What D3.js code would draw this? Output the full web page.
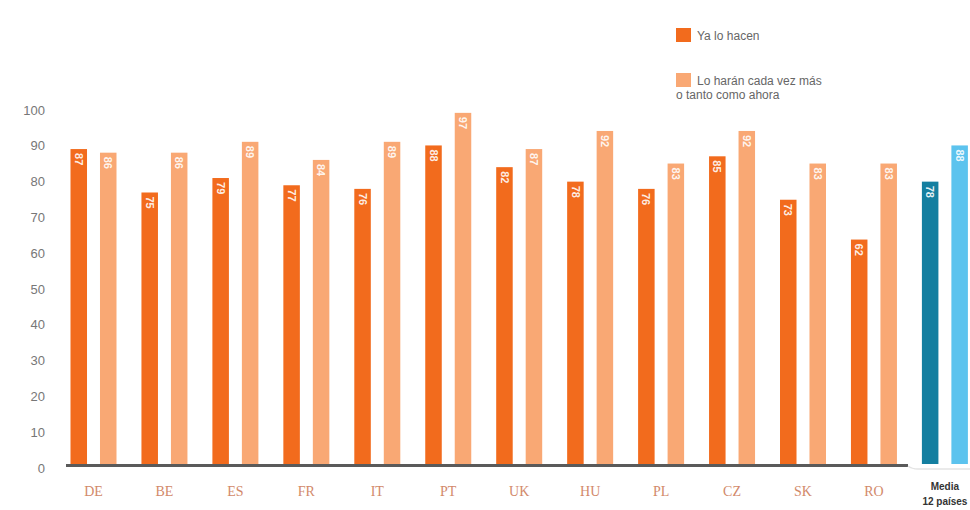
<!DOCTYPE html>
<html>
<head>
<meta charset="utf-8">
<style>
  body { margin: 0; background: #fff; }
  svg { display: block; }
</style>
</head>
<body>
<div id="container"></div>
<script src="https://cdn.jsdelivr.net/npm/d3@7"></script>
<script>
// Data
let countries = ["DE", "BE", "ES", "FR", "IT", "PT", "UK", "HU", "PL", "CZ", "SK", "RO", "Media"];
let yaLoHacen = [87, 75, 79, 77, 76, 88, 82, 78, 76, 85, 73, 62, 78];
let loHaran = [86, 86, 89, 84, 89, 97, 87, 92, 83, 92, 83, 83, 88];
let yTicks = [0, 10, 20, 30, 40, 50, 60, 70, 80, 90, 100];
let seriesNames = ["Ya lo hacen", "Lo harán cada vez más", "o tanto como ahora"];

let width = 970, height = 510;

let svg = d3.select("#container")
  .append("svg")
  .attr("width", width)
  .attr("height", height);

// Scales
let x = d3.scaleBand()
  .domain(countries)
  .range([63.5, 63.5 + 70.95 * countries.length])
  .padding(0);

let xSub = d3.scaleBand()
  .domain(["a", "b"])
  .range([7, 53])
  .paddingInner(0.44);

let y = d3.scaleLinear().domain([0, 100]).range([464, 102]);
// tick labels sit a little lower than the bar scale
let yLab = d3.scaleLinear().domain([0, 100]).range([468, 110]);

let dark = (d, i) => countries[i] === "Media" ? "#147fa0" : "#f26b1d";
let light = (d, i) => countries[i] === "Media" ? "#5cc3ee" : "#f9a874";

// Y tick labels
svg.append("g")
  .selectAll("text")
  .data(yTicks)
  .enter()
  .append("text")
  .attr("x", 45)
  .attr("y", (d) => yLab(d))
  .attr("dy", "0.35em")
  .attr("text-anchor", "end")
  .style("font-family", "Liberation Sans, Arial, sans-serif")
  .style("font-size", "13px")
  .style("fill", "#777")
  .text((d) => d);

// Bars
let groups = svg.append("g")
  .selectAll("g")
  .data(countries)
  .enter()
  .append("g")
  .attr("transform", (d) => `translate(${x(d)},0)`);

groups.append("rect")
  .attr("x", xSub("a"))
  .attr("width", xSub.bandwidth())
  .attr("y", (d, i) => y(yaLoHacen[i]))
  .attr("height", (d, i) => y(0) - y(yaLoHacen[i]))
  .style("fill", dark);

groups.append("rect")
  .attr("x", xSub("b"))
  .attr("width", xSub.bandwidth())
  .attr("y", (d, i) => y(loHaran[i]))
  .attr("height", (d, i) => y(0) - y(loHaran[i]))
  .style("fill", light);

// Value labels, rotated inside the bars
function valueLabel(sub, vals) {
  groups.append("text")
    .attr("transform", (d, i) => {
      let cx = xSub(sub) + xSub.bandwidth() / 2;
      return `translate(${cx},${y(vals[i]) + 4}) rotate(90)`;
    })
    .attr("dy", "0.35em")
    .attr("text-anchor", "start")
    .style("font-family", "Liberation Sans, Arial, sans-serif")
    .style("font-size", "11px")
    .style("font-weight", "bold")
    .style("fill", "#fff")
    .style("fill-opacity", 0.9)
    .text((d, i) => vals[i]);
}
valueLabel("a", yaLoHacen);
valueLabel("b", loHaran);

// Baseline
svg.append("line")
  .attr("x1", 66).attr("x2", 908)
  .attr("y1", 465.5).attr("y2", 465.5)
  .style("stroke", "#5a5a5a")
  .style("stroke-width", 3);

svg.append("path")
  .attr("d", "M908,466 Q912,469 918,469 L970,469")
  .style("fill", "none")
  .style("stroke", "#e3e3e3")
  .style("stroke-width", 1.5);

// Category labels
svg.append("g")
  .selectAll("text")
  .data(countries.filter((c) => c !== "Media"))
  .enter()
  .append("text")
  .attr("x", (d) => x(d) + 30)
  .attr("y", 496)
  .attr("text-anchor", "middle")
  .style("font-family", "Liberation Serif, Times New Roman, serif")
  .style("font-size", "14px")
  .style("fill", "#d2896a")
  .text((d) => d);

let media = svg.append("text")
  .attr("x", x("Media") + 30)
  .attr("y", 490)
  .attr("text-anchor", "middle")
  .style("font-family", "Liberation Sans, Arial, sans-serif")
  .style("font-size", "10px")
  .style("font-weight", "bold")
  .style("fill", "#333");
media.append("tspan").attr("x", x("Media") + 30).text("Media");
media.append("tspan").attr("x", x("Media") + 30).attr("dy", 15).text("12 países");

// Legend
let legend = svg.append("g")
  .style("font-family", "Liberation Sans, Arial, sans-serif")
  .style("font-size", "12px")
  .style("fill", "#666");

legend.append("rect")
  .attr("x", 676).attr("y", 28).attr("width", 15).attr("height", 14)
  .style("fill", "#f26b1d");
legend.append("text").attr("x", 697).attr("y", 40).text(seriesNames[0]);

legend.append("rect")
  .attr("x", 676).attr("y", 73).attr("width", 15).attr("height", 14)
  .style("fill", "#f9a874");
legend.append("text").attr("x", 697).attr("y", 85).text(seriesNames[1]);
legend.append("text").attr("x", 676).attr("y", 99).text(seriesNames[2]);
</script>
</body>
</html>
